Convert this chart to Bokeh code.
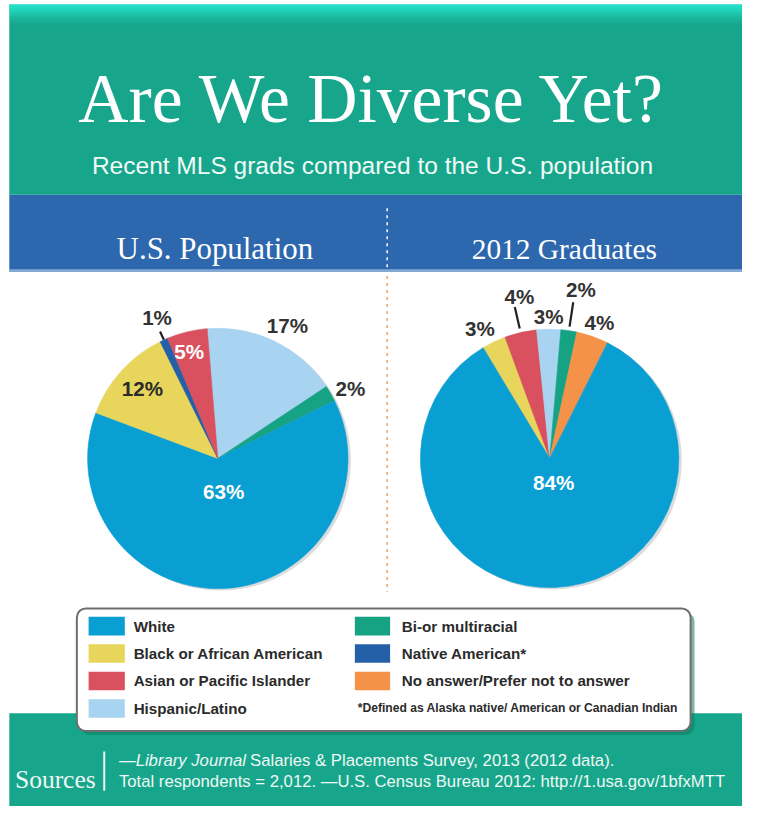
import numpy as np
from bokeh.plotting import figure
from bokeh.models import Range1d, ColumnDataSource
from bokeh.embed import file_html
from bokeh.resources import INLINE
from bokeh.core.properties import value

# ------------------------------------------------------------------ data
title = "Are We Diverse Yet?"
subtitle = "Recent MLS grads compared to the U.S. population"
panel_titles = ["U.S. Population", "2012 Graduates"]

us_categories = ["Hispanic/Latino", "Bi-or multiracial", "White",
                 "Black or African American", "Native American*",
                 "Asian or Pacific Islander"]
us_values = [17, 2, 63, 12, 1, 5]

grad_categories = ["Black or African American", "Asian or Pacific Islander",
                   "Hispanic/Latino", "Bi-or multiracial",
                   "No answer/Prefer not to answer", "White"]
grad_values = [3, 4, 3, 2, 4, 84]

legend_left = ["White", "Black or African American",
               "Asian or Pacific Islander", "Hispanic/Latino"]
legend_right = ["Bi-or multiracial", "Native American*",
                "No answer/Prefer not to answer"]
footnote = "*Defined as Alaska native/ American or Canadian Indian"

sources_label = "Sources"
source_line1_italic = "\u2014Library Journal"
source_line1_rest = "Salaries & Placements Survey, 2013 (2012 data)."
source_line2 = ("Total respondents = 2,012. \u2014U.S. Census Bureau 2012: "
                "http://1.usa.gov/1bfxMTT")

# ------------------------------------------------------------------ styles
COLORS = {
    "White": "#0a9fd3",
    "Black or African American": "#e7d55c",
    "Asian or Pacific Islander": "#d9505f",
    "Hispanic/Latino": "#a9d4f1",
    "Bi-or multiracial": "#15a384",
    "Native American*": "#2460a8",
    "No answer/Prefer not to answer": "#f4924a",
}
TEAL = "#17a68c"
BLUE = "#2d67ad"
DARK = "#333333"
SERIF = "Liberation Serif"
SANS = "Liberation Sans"
S = 0.98          # screen px per layout unit (layout is 758 x 822)


def px(v):
    return "%.1fpx" % (v * S)


W, H = 742, 806
p = figure(width=W, height=H, x_range=Range1d(0, 758), y_range=Range1d(-822, 0),
           output_backend="svg", toolbar_location=None, min_border=0,
           x_axis_location=None, y_axis_location=None)
p.grid.visible = False
p.outline_line_color = None
p.background_fill_color = "white"
p.border_fill_color = "white"


def Y(v):
    return -v


def txt(x, y, s, font, size, color, align="left", baseline="alphabetic",
        style="normal"):
    p.text(x=[x], y=[Y(y)], text=[s], text_font=value(font),
           text_font_size=px(size), text_color=color, text_align=align,
           text_baseline=baseline, text_font_style=style)


# ------------------------------------------------------------------ header
p.quad(left=9, right=760, top=Y(4), bottom=Y(198), fill_color=TEAL, line_color=None)
for i in range(22):
    a = (1 - i / 22.0) ** 1.5
    p.quad(left=9, right=760, top=Y(4 + i), bottom=Y(5 + i),
           fill_color="#2af4de", fill_alpha=a, line_color=None)

T_SIZE = 71
txt(380, 77 + 0.66 * T_SIZE / 2, title, SERIF, T_SIZE, "white", align="center")
txt(380, 168, subtitle, SANS, 25, "#f2faf7", align="center")

# ------------------------------------------------------------------ blue band
p.quad(left=9, right=760, top=Y(198), bottom=Y(277), fill_color=BLUE, line_color=None)
p.quad(left=9, right=760, top=Y(274), bottom=Y(277), fill_color="#a8c4e4",
       fill_alpha=0.7, line_color=None)
txt(219, 243 + 0.66 * 31.5 / 2, panel_titles[0], SERIF, 31.5, "white", align="center")
txt(576, 243 + 0.66 * 31.5 / 2, panel_titles[1], SERIF, 30, "white", align="center")

# divider
p.line(x=[395, 395], y=[Y(212), Y(274)], line_color="white", line_width=1.5,
       line_dash="3 4")
p.line(x=[395, 395], y=[Y(281), Y(603)], line_color="#f0a264", line_width=1.5,
       line_dash="3 4")


# ------------------------------------------------------------------ pies
def draw_pie(cx, cy, r, cats, vals, start_cw, lab_layout, lab_colors, leaders):
    vals = np.asarray(vals, dtype=float)
    tot = vals.sum()
    cum = np.concatenate([[0], np.cumsum(vals)])
    a0 = start_cw + 360 * cum[:-1] / tot
    a1 = start_cw + 360 * cum[1:] / tot
    mid = (a0 + a1) / 2
    p.circle(x=[cx + 3], y=[Y(cy + 2)], radius=r, fill_color="#dcdcdc",
             line_color=None)
    src = ColumnDataSource(dict(start=np.radians(90 - a1), end=np.radians(90 - a0),
                                color=[COLORS[c] for c in cats]))
    p.wedge(x=cx, y=Y(cy), radius=r, start_angle="start", end_angle="end",
            fill_color="color", line_color="color", line_width=0.6, source=src)
    lx, ly, lt, lc = [], [], [], []
    for i, v in enumerate(vals):
        f, off = lab_layout[i]
        ang = np.radians(mid[i] + off)
        lx.append(cx + f * r * np.sin(ang))
        ly.append(Y(cy - f * r * np.cos(ang)))
        lt.append("%d%%" % v)
        lc.append(lab_colors[i])
    p.text(x=lx, y=ly, text=lt, text_color=lc, text_font=value(SANS),
           text_font_size=px(21), text_font_style="bold",
           text_align="center", text_baseline="middle")
    for i, f0, f1 in leaders:
        ang = np.radians(mid[i])
        p.line(x=[cx + f0 * r * np.sin(ang), cx + f1 * r * np.sin(ang)],
               y=[Y(cy - f0 * r * np.cos(ang)), Y(cy - f1 * r * np.cos(ang))],
               line_color="#222222", line_width=2.2)


draw_pie(222, 467, 133, us_categories, us_values, -4.7,
         [(1.15, 1.8), (1.15, 2.3), (0.26, -7), (0.79, 0.7), (1.18, 1.2), (0.85, -1.3)],
         [DARK, DARK, "white", "#2a2a2a", DARK, "white"],
         [(4, 1.0, 1.07)])
draw_pie(561, 467, 132, grad_categories, grad_values, -31,
         [(1.14, -2.7), (1.27, 2.4), (1.10, 0), (1.33, 1.9), (1.12, 0.7), (0.19, -7)],
         [DARK, DARK, DARK, DARK, DARK, "white"],
         [(1, 1.03, 1.2), (3, 1.03, 1.22)])

# ------------------------------------------------------------------ footer
p.quad(left=9, right=760, top=Y(727), bottom=Y(824), fill_color=TEAL, line_color=None)

# ------------------------------------------------------------------ legend box
p.quad(left=82, right=709, top=Y(624), bottom=Y(749), fill_color="#0e7d62",
       fill_alpha=0.55, line_color=None, border_radius=9)
p.quad(left=78, right=705, top=Y(620), bottom=Y(745), fill_color="white",
       line_color="#6e6e6e", line_width=2, border_radius=9)

rows = [638, 666, 694, 722]
sw_h = 19
for i, cat in enumerate(legend_left):
    p.quad(left=90, right=127, top=Y(rows[i] - sw_h / 2), bottom=Y(rows[i] + sw_h / 2),
           fill_color=COLORS[cat], line_color=None)
    txt(136, rows[i], cat, SANS, 15.5, "#2b2b2b", baseline="middle", style="bold")
for i, cat in enumerate(legend_right):
    p.quad(left=362, right=398, top=Y(rows[i] - sw_h / 2), bottom=Y(rows[i] + sw_h / 2),
           fill_color=COLORS[cat], line_color=None)
    txt(410, rows[i], cat, SANS, 15.5, "#2b2b2b", baseline="middle", style="bold")
txt(365, rows[3], footnote, SANS, 12.3, "#2b2b2b", baseline="middle", style="bold")

# ------------------------------------------------------------------ sources
txt(56, 786 + 0.66 * 26 / 2, sources_label, SERIF, 26, "#eef8f4", align="center")
p.line(x=[106, 106], y=[Y(766), Y(806)], line_color="#eef8f4", line_width=2)
txt(121, 775, source_line1_italic, SANS, 17, "#eef8f4", baseline="middle",
    style="italic")
txt(255, 775, source_line1_rest, SANS, 17, "#eef8f4", baseline="middle")
txt(121, 797, source_line2, SANS, 17, "#eef8f4", baseline="middle")

open("out.html", "w").write(file_html(p, INLINE))
